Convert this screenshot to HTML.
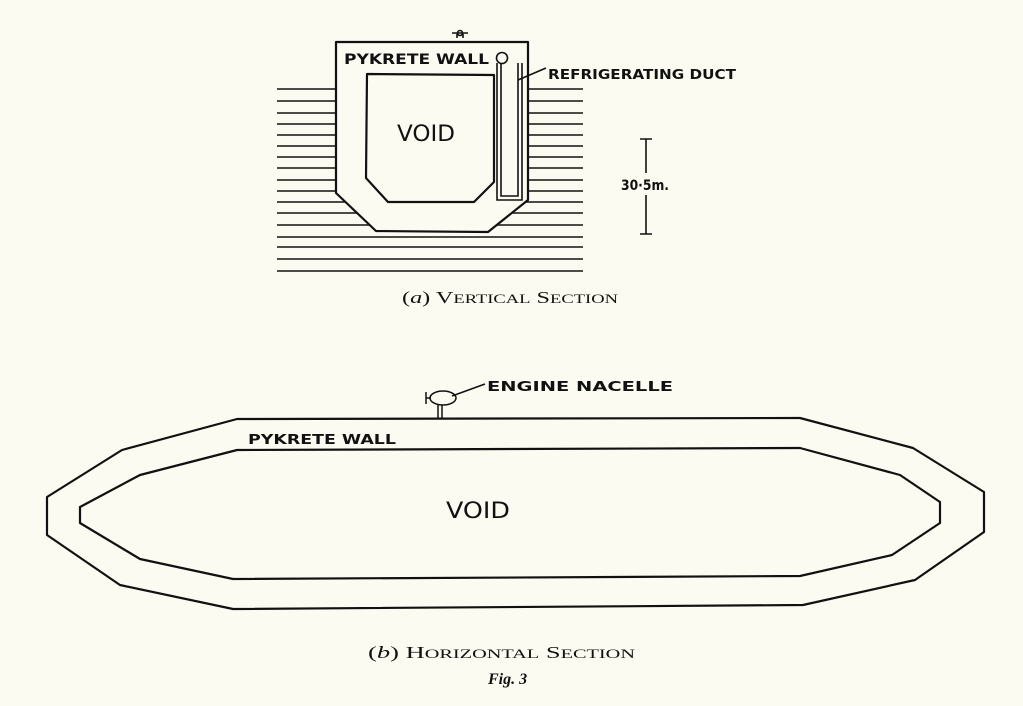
<!DOCTYPE html>
<html><head><meta charset="utf-8"><style>
html,body{margin:0;padding:0;background:#fcfbf1;}
svg{display:block;}
.h{font-family:"DejaVu Sans","Liberation Sans",sans-serif;font-weight:bold;fill:#111;}
.v{font-family:"DejaVu Sans","Liberation Sans",sans-serif;font-weight:normal;fill:#111;}
.c{font-family:"Liberation Serif",serif;fill:#111;}
</style></head><body>
<svg width="1023" height="706" viewBox="0 0 1023 706" xmlns="http://www.w3.org/2000/svg">
<rect width="1023" height="706" fill="#fcfbf1"/>
<g stroke="#111" stroke-width="1.6">
<line x1="277" y1="89" x2="583" y2="89"/>
<line x1="277" y1="101" x2="583" y2="101"/>
<line x1="277" y1="113" x2="583" y2="113"/>
<line x1="277" y1="124" x2="583" y2="124"/>
<line x1="277" y1="135" x2="583" y2="135"/>
<line x1="277" y1="146" x2="583" y2="146"/>
<line x1="277" y1="157" x2="583" y2="157"/>
<line x1="277" y1="168" x2="583" y2="168"/>
<line x1="277" y1="180" x2="583" y2="180"/>
<line x1="277" y1="191" x2="583" y2="191"/>
<line x1="277" y1="202" x2="583" y2="202"/>
<line x1="277" y1="213" x2="583" y2="213"/>
<line x1="277" y1="225" x2="583" y2="225"/>
<line x1="277" y1="237" x2="583" y2="237"/>
<line x1="277" y1="247" x2="583" y2="247"/>
<line x1="277" y1="259" x2="583" y2="259"/>
<line x1="277" y1="271" x2="583" y2="271"/>
</g>
<g fill="#fcfbf1" stroke="#111" stroke-width="2.2" stroke-linejoin="round">
<polygon points="336,42 528,42 528,200 488,232 376,231 336,193"/>
<polygon points="367,74 494,75 494,182 474,202 388,202 366,178"/>
</g>
<g fill="none" stroke="#111" stroke-width="1.6">
<path d="M497,63 V200 H522 V63 M501,63 V196 H518 V63"/>
<circle cx="502" cy="58" r="5.5" fill="#fcfbf1"/>
<line x1="518" y1="80" x2="546" y2="68"/>
<path d="M457,38 V34 M463,38 V34 M452,33 H468" />
<circle cx="460" cy="33" r="2.5"/>
<path d="M640,139 H652 M646,139 V173 M646,195 V234 M640,234 H652"/>
</g>
<text class="h" x="344" y="64" font-size="14" textLength="145" lengthAdjust="spacingAndGlyphs">PYKRETE WALL</text>
<text class="h" x="548" y="79" font-size="13" textLength="188" lengthAdjust="spacingAndGlyphs">REFRIGERATING DUCT</text>
<text class="v" x="397" y="141" font-size="22" textLength="58" lengthAdjust="spacingAndGlyphs">VOID</text>
<text class="h" x="621" y="190" font-size="14" textLength="48" lengthAdjust="spacingAndGlyphs">30·5m.</text>
<text class="c" x="402" y="303" font-size="17" textLength="216" lengthAdjust="spacingAndGlyphs">(<tspan font-style="italic">a</tspan>) V<tspan font-size="13">ERTICAL</tspan> S<tspan font-size="13">ECTION</tspan></text>

<g fill="none" stroke="#111" stroke-width="2.2" stroke-linejoin="round">
<polygon points="237,419 800,418 913,448 984,492 984,532 915,580 803,605 233,609 120,585 47,535 47,497 122,450"/>
<polygon points="237,450 800,448 900,475 940,502 940,523 892,555 800,576 233,579 140,559 80,523 80,507 140,475"/>
</g>
<g fill="none" stroke="#111" stroke-width="1.5">
<ellipse cx="443" cy="398" rx="13" ry="7"/>
<path d="M426,392 V404 M426,398 L431,398"/>
<path d="M438,405 V418 M442,405 V418"/>
<line x1="452" y1="396" x2="485" y2="384"/>
</g>
<text class="h" x="487" y="391" font-size="13" textLength="186" lengthAdjust="spacingAndGlyphs">ENGINE  NACELLE</text>
<text class="h" x="248" y="444" font-size="13" textLength="148" lengthAdjust="spacingAndGlyphs">PYKRETE  WALL</text>
<text class="v" x="446" y="518" font-size="22" textLength="64" lengthAdjust="spacingAndGlyphs">VOID</text>
<text class="c" x="368" y="658" font-size="17" textLength="267" lengthAdjust="spacingAndGlyphs">(<tspan font-style="italic">b</tspan>) H<tspan font-size="13">ORIZONTAL</tspan> S<tspan font-size="13">ECTION</tspan></text>
<text class="c" x="488" y="684" font-size="16" font-style="italic" font-weight="bold">Fig. 3</text>
</svg>
</body></html>
